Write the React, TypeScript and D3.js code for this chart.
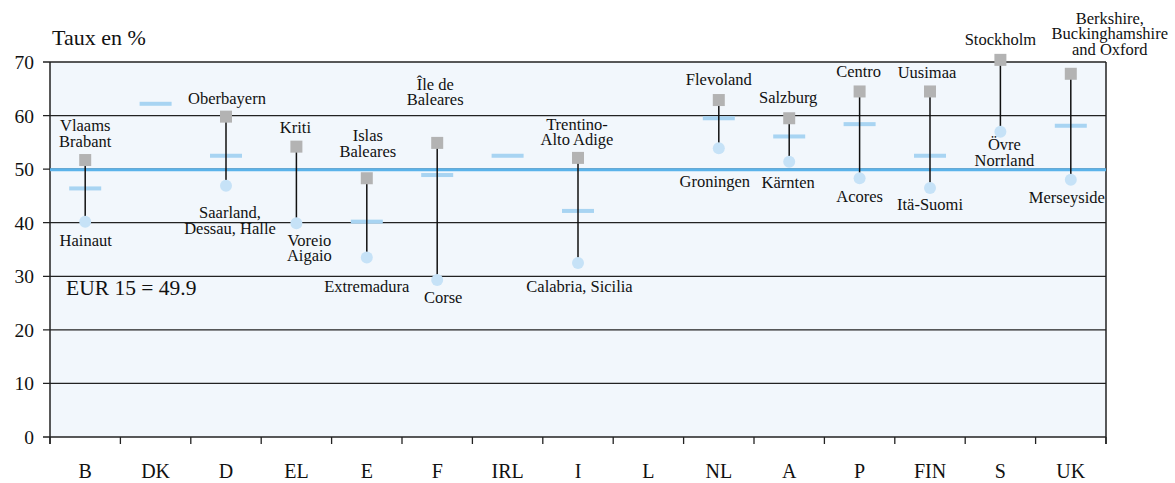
import React from "react";
import * as d3 from "d3";

const countries = ["B", "DK", "D", "EL", "E", "F", "IRL", "I", "L", "NL", "A", "P", "FIN", "S", "UK"];
const maxValues: (number | null)[] = [51.7, null, 59.8, 54.2, 48.3, 54.9, null, 52.1, null, 62.9, 59.5, 64.5, 64.5, 70.4, 67.8];
const minValues: (number | null)[] = [40.2, null, 46.9, 39.9, 33.5, 29.3, null, 32.5, null, 53.9, 51.4, 48.3, 46.5, 57.0, 48.0];
const nationalAvg: (number | null)[] = [46.4, 62.2, 52.5, null, 40.2, 48.9, 52.5, 42.2, null, 59.5, 56.1, 58.4, 52.5, null, 58.1];
const maxRegions: (string[] | null)[] = [
  ["Vlaams", "Brabant"], null, ["Oberbayern"], ["Kriti"], ["Islas", "Baleares"], ["Île de", "Baleares"], null,
  ["Trentino-", "Alto Adige"], null, ["Flevoland"], ["Salzburg"], ["Centro"], ["Uusimaa"], ["Stockholm"],
  ["Berkshire,", "Buckinghamshire", "and Oxford"],
];
const minRegions: (string[] | null)[] = [
  ["Hainaut"], null, ["Saarland,", "Dessau, Halle"], ["Voreio", "Aigaio"], ["Extremadura"], ["Corse"], null,
  ["Calabria, Sicilia"], null, ["Groningen"], ["Kärnten"], ["Acores"], ["Itä-Suomi"], ["Övre", "Norrland"], ["Merseyside"],
];
const eurValue = 49.9;
const yTicks = [0, 10, 20, 30, 40, 50, 60, 70];

// label layout offsets (relative to marker): [dx, dy]
const maxLabelOffsets: [number, number][] = [
  [0, -13], [0, 0], [1, -12.7], [-1, -13.4], [1, -21.6], [-2, -37.7], [0, 0], [-1, -12.7], [0, 0],
  [0, -15], [-1, -15], [-1, -14], [-3, -13.4], [0, -15], [39, -19],
];
const minLabelOffsets: [number, number][] = [
  [0.5, 24], [0, 0], [4, 32.6], [13, 22.4], [0, 34.4], [6, 23], [0, 0], [1.5, 29], [0, 0],
  [-4, 38.4], [-1, 26], [0, 23.4], [0, 22.3], [4, 18.3], [-4, 23.3],
];

const W = 1175;
const H = 483;
const L = 50, R = 1106, T = 62, B = 437;
const FONT = '"Liberation Serif", "DejaVu Serif", "Times New Roman", serif';
const LH = 15.6;

export default function App() {
  const y = d3.scaleLinear().domain([0, 70]).range([B, T]);
  const x = d3.scaleBand<string>().domain(countries).range([L, R]);
  const bw = x.bandwidth();
  const boundaries = d3.range(countries.length + 1).map((i) => L + i * bw);

  return (
    <svg width={W} height={H} style={{ position: "absolute", left: 0, top: 0, fontFamily: FONT }}>
      <rect x={L} y={T} width={R - L} height={B - T} fill="#f2f7fc" />
      {yTicks.map((t) => (
        <g key={t}>
          <line x1={L - 7} x2={R} y1={y(t)} y2={y(t)} stroke="#222" strokeWidth={1.3} />
          <text x={34} y={y(t) + 7} textAnchor="end" fontSize={19.5} fill="#111">{t}</text>
        </g>
      ))}
      <line x1={L} x2={L} y1={T} y2={B + 7} stroke="#222" strokeWidth={1.5} />
      <line x1={R} x2={R} y1={T} y2={B + 7} stroke="#222" strokeWidth={1.5} />
      {boundaries.map((bx, i) => (
        <line key={i} x1={bx} x2={bx} y1={B} y2={B + 7} stroke="#222" strokeWidth={1.3} />
      ))}
      <line x1={L} x2={R} y1={y(eurValue)} y2={y(eurValue)} stroke="#5bb3ea" strokeWidth={3} />
      {countries.map((c) => {
        const cx = (x(c) as number) + bw / 2;
        return (
          <text key={c} x={cx} y={478} textAnchor="middle" fontSize={20} fill="#111">{c}</text>
        );
      })}
      {countries.map((c, i) => {
        const cx = (x(c) as number) + bw / 2;
        const avg = nationalAvg[i];
        return avg == null ? null : (
          <rect key={c} x={cx - 16} y={y(avg) - 2} width={32} height={4} fill="#a8d4f2" />
        );
      })}
      {countries.map((c, i) => {
        const cx = (x(c) as number) + bw / 2;
        const mx = maxValues[i];
        const mn = minValues[i];
        if (mx == null || mn == null) return null;
        const ml = maxRegions[i] || [];
        const nl = minRegions[i] || [];
        const [mdx, mdy] = maxLabelOffsets[i];
        const [ndx, ndy] = minLabelOffsets[i];
        return (
          <g key={c}>
            <line x1={cx} x2={cx} y1={y(mx)} y2={y(mn)} stroke="#111" strokeWidth={1.5} />
            <circle cx={cx} cy={y(mn)} r={6} fill="#c6e2f7" />
            <rect x={cx - 6} y={y(mx) - 6} width={12} height={12} fill="#b3b3b3" />
            {ml.map((s, k) => (
              <text key={"a" + k} x={cx + mdx} y={y(mx) + mdy - (ml.length - 1 - k) * LH}
                textAnchor="middle" fontSize={16.5} fill="#111">{s}</text>
            ))}
            {nl.map((s, k) => (
              <text key={"b" + k} x={cx + ndx} y={y(mn) + ndy + k * LH}
                textAnchor="middle" fontSize={16.5} fill="#111">{s}</text>
            ))}
          </g>
        );
      })}
      <text x={52} y={45} fontSize={22} fill="#111">Taux en %</text>
      <text x={66} y={295} fontSize={21.5} fill="#111">EUR 15 = 49.9</text>
    </svg>
  );
}
